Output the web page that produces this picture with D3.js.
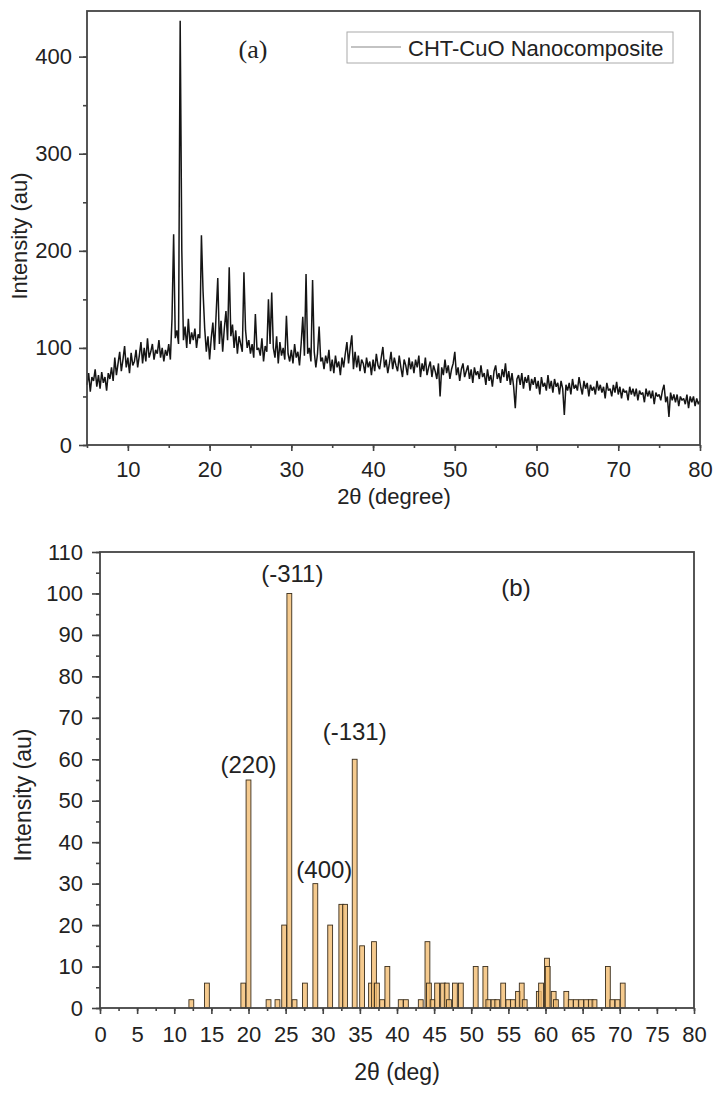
<!DOCTYPE html>
<html>
<head>
<meta charset="utf-8">
<script src="https://cdn.jsdelivr.net/npm/d3@7"></script>
<style>
  body { margin: 0; background: #fff; }
  text { font-family: "Liberation Sans", Arial, sans-serif; fill: #222; }
</style>
</head>
<body>
<script>
// ---- panel (a): XRD scan, 5..80 deg, one reading every 0.2 deg ----
const scanStart = 5;
const scanStep = 0.2;
const scanIntensity = [
  62, 74, 55, 70, 66,   78, 60, 72, 58, 75,   64, 70, 56, 74, 68,
  80, 66, 90, 72, 84,   96, 76, 88, 102, 80,  90, 74, 95, 82, 86,
  98, 80, 92, 106, 84,  100, 86, 110, 90, 96, 104, 88, 98, 94, 108,
  90, 100, 86, 98, 92,  104, 88, 130, 217, 110, 118, 104, 437, 200, 108,
  122, 100, 130, 104, 116, 108, 120, 100, 114, 110, 216, 158, 120, 96, 112,
  88, 110, 126, 98, 135, 172, 104, 128, 96, 120, 138, 108, 183, 112, 124,
  100, 118, 94, 112, 104, 96, 178, 118, 100, 108, 94, 104, 90, 135, 98,
  100, 92, 110, 86, 102, 96, 150, 104, 157, 100, 90, 112, 84, 106, 92,
  100, 88, 133, 94, 86,  98, 84, 104, 90, 96,   82, 104, 132, 92, 176,
  94, 100, 86, 170, 96,  80, 94, 122, 86, 90,   78, 92, 84, 98, 76,
  88, 74, 92, 80, 86,   72, 90, 80, 94, 106,   84, 100, 113, 78, 96,
  80, 92, 76, 88, 84,   74, 90, 80, 86, 72,    88, 76, 94, 82, 78,
  90, 101, 80, 88, 74,  84, 96, 78, 90, 82,    76, 92, 80, 70, 88,
  82, 72, 90, 78, 86,   74, 88, 80, 92, 70,    84, 76, 90, 72, 80,
  86, 70, 82, 76, 68,   84, 50, 80, 72, 88,    74, 82, 68, 78, 84,
  96, 72, 80, 66, 78,   84, 70, 76, 82, 68,    78, 64, 80, 72, 76,
  68, 82, 70, 74, 62,   78, 66, 72, 60, 76,    82, 68, 74, 64, 78,
  70, 84, 66, 76, 62,   74, 60, 38, 68, 72,    62, 74, 58, 70, 64,
  72, 56, 68, 62, 70,   58, 66, 52, 70, 60,    64, 56, 72, 58, 66,
  54, 68, 60, 64, 52,   66, 58, 31, 62, 56,    64, 52, 68, 58, 62,
  56, 70, 60, 52, 66,   58, 64, 50, 62, 56,    60, 52, 66, 56, 62,
  54, 60, 48, 64, 56,   58, 50, 62, 54, 65,    52, 60, 48, 58, 54,
  56, 46, 60, 52, 58,   50, 58, 46, 56, 52,    54, 44, 58, 50, 56,
  48, 56, 42, 54, 50,   52, 46, 56, 62, 44,    50, 29, 54, 46, 52,
  44, 52, 40, 50, 46,   48, 42, 52, 38, 50,    44, 50, 40, 48, 42,
  46
];
const seriesName = "CHT-CuO Nanocomposite";

// ---- panel (b): reference peak list ----
const peakAngles = [
  12.3, 14.4, 19.3, 20.0, 22.7, 23.9, 24.8, 25.5, 26.2, 27.6,
  29.0, 31.0, 32.5, 33.0, 34.3, 35.3, 36.5, 36.9, 37.3, 38.0,
  38.7, 40.5, 41.2, 43.2, 44.1, 44.3, 44.8, 45.4, 46.2, 46.7,
  47.0, 47.8, 48.6, 50.6, 51.9, 52.3, 53.0, 53.5, 54.3, 55.0,
  55.6, 56.3, 56.8, 57.2, 59.1, 59.4, 60.2, 60.3, 61.1, 61.4,
  62.8, 63.4, 64.1, 64.8, 65.5, 66.1, 66.6, 68.4, 69.0, 69.7, 70.4
];
const peakIntensity = [
  2, 6, 6, 55, 2, 2, 20, 100, 2, 6,
  30, 20, 25, 25, 60, 15, 6, 16, 6, 2,
  10, 2, 2, 2, 16, 6, 2, 6, 6, 6,
  2, 6, 6, 10, 10, 2, 2, 2, 6, 2,
  2, 4, 6, 2, 4, 6, 12, 10, 4, 2,
  4, 2, 2, 2, 2, 2, 2, 10, 2, 2, 6
];
const hklLabels = ["(220)", "(-311)", "(400)", "(-131)"];
const hklAngles = [20.0, 25.5, 29.0, 34.3];
const hklIntensity = [55, 100, 30, 60];

const width = 719, height = 1093;
const svg = d3.select("body").append("svg")
  .attr("width", width).attr("height", height);

const axisColor = "#444";
const sans = "'Liberation Sans', Arial, sans-serif";

function frame(g, x, y) {
  const [x0, x1] = x.range(), [y0, y1] = y.range();
  g.append("rect")
    .attr("x", x0).attr("y", y1)
    .attr("width", x1 - x0).attr("height", y0 - y1)
    .attr("fill", "none").attr("stroke", axisColor).attr("stroke-width", 1.8);
}

function ticks(g, x, y, xMajor, xMinor, yMajor, yMinor, fs, xPad, yPad) {
  const xa = g.append("g").attr("transform", `translate(0,${y.range()[0]})`);
  xa.call(d3.axisBottom(x).tickValues(xMinor).tickSize(3).tickFormat(""));
  xa.append("g").call(d3.axisBottom(x).tickValues(xMajor).tickSize(6).tickPadding(xPad));
  const ya = g.append("g").attr("transform", `translate(${x.range()[0]},0)`);
  ya.call(d3.axisLeft(y).tickValues(yMinor).tickSize(4).tickFormat(""));
  ya.append("g").call(d3.axisLeft(y).tickValues(yMajor).tickSize(8).tickPadding(yPad));
  g.selectAll(".domain").remove();
  g.selectAll(".tick line").attr("stroke", axisColor).attr("stroke-width", 1.6);
  g.selectAll(".tick text").attr("font-size", fs).style("font-family", sans).attr("fill", "#222");
}

// ================= panel (a) =================
{
  const g = svg.append("g");
  const x = d3.scaleLinear().domain([5, 80]).range([87, 700]);
  const y = d3.scaleLinear().domain([0, 447]).range([445, 11]);

  const pts = scanIntensity.map((v, i) => [scanStart + i * scanStep, v]);
  g.append("path")
    .datum(pts)
    .attr("fill", "none")
    .attr("stroke", "#151515")
    .attr("stroke-width", 1.5)
    .attr("stroke-linejoin", "bevel")
    .attr("d", d3.line().x(d => x(d[0])).y(d => y(d[1])));

  frame(g, x, y);
  ticks(g, x, y,
    d3.range(10, 81, 10), d3.range(5, 81, 5),
    d3.range(0, 401, 100), d3.range(0, 447, 50), 22, 10, 7);

  g.append("text")
    .attr("transform", "translate(27,236) rotate(-90)")
    .attr("text-anchor", "middle").attr("font-size", 22)
    .text("Intensity (au)");
  g.append("text")
    .attr("x", 394).attr("y", 504)
    .attr("text-anchor", "middle").attr("font-size", 22)
    .text("2\u03b8 (degree)");

  g.append("text")
    .attr("x", 253).attr("y", 58)
    .attr("text-anchor", "middle").attr("font-size", 26)
    .style("font-family", "'Liberation Serif', 'Times New Roman', serif")
    .text("(a)");

  const lg = g.append("g");
  lg.append("rect")
    .attr("x", 347).attr("y", 32).attr("width", 326).attr("height", 31)
    .attr("fill", "#fff").attr("stroke", "#aaa").attr("stroke-width", 1);
  lg.append("line")
    .attr("x1", 351).attr("x2", 401).attr("y1", 47).attr("y2", 47)
    .attr("stroke", "#888").attr("stroke-width", 1.2);
  lg.append("text")
    .attr("x", 408).attr("y", 55.5).attr("font-size", 22)
    .text(seriesName);
}

// ================= panel (b) =================
{
  const g = svg.append("g");
  const x = d3.scaleLinear().domain([0, 80]).range([100, 694]);
  const y = d3.scaleLinear().domain([0, 110]).range([1008, 552]);
  const barW = x(0.65) - x(0);

  g.selectAll("rect.bar")
    .data(peakAngles.map((a, i) => ({ a, v: peakIntensity[i] })))
    .enter().append("rect")
    .attr("class", "bar")
    .attr("x", d => x(d.a) - barW / 2)
    .attr("y", d => y(d.v))
    .attr("width", barW)
    .attr("height", d => y(0) - y(d.v))
    .attr("fill", "#f3bd72")
    .attr("fill-opacity", 0.8)
    .attr("stroke", "#3a2e1c")
    .attr("stroke-width", 0.9);

  frame(g, x, y);
  ticks(g, x, y,
    d3.range(0, 81, 5), d3.range(0, 81, 2.5),
    d3.range(0, 111, 10), d3.range(0, 111, 5), 22, 12, 9);

  // small hand nudges so labels sit where the original has them
  const labelNudge = [[0, -7], [3, -11], [9, -6], [0, -19]];
  g.selectAll("text.hkl")
    .data(hklLabels)
    .enter().append("text")
    .attr("class", "hkl")
    .attr("x", (d, i) => x(hklAngles[i]) + labelNudge[i][0])
    .attr("y", (d, i) => y(hklIntensity[i]) + labelNudge[i][1])
    .attr("text-anchor", "middle").attr("font-size", 24)
    .text(d => d);

  g.append("text")
    .attr("x", 516).attr("y", 596)
    .attr("text-anchor", "middle").attr("font-size", 24)
    .text("(b)");

  g.append("text")
    .attr("transform", "translate(31,795) rotate(-90)")
    .attr("text-anchor", "middle").attr("font-size", 23)
    .text("Intensity (au)");
  g.append("text")
    .attr("x", 397).attr("y", 1080)
    .attr("text-anchor", "middle").attr("font-size", 23)
    .text("2\u03b8 (deg)");
}
</script>
</body>
</html>
